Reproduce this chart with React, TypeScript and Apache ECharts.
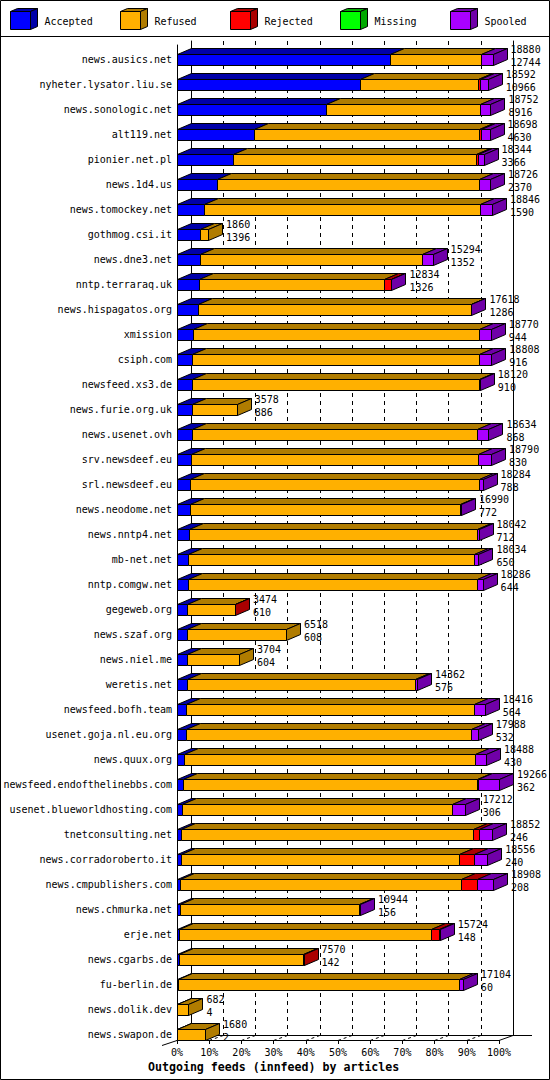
import React, { useEffect, useRef } from 'react';
import * as echarts from 'echarts';

const hosts = [
  'news.ausics.net', 'nyheter.lysator.liu.se', 'news.sonologic.net', 'alt119.net', 'pionier.net.pl',
  'news.1d4.us', 'news.tomockey.net', 'gothmog.csi.it', 'news.dne3.net', 'nntp.terraraq.uk',
  'news.hispagatos.org', 'xmission', 'csiph.com', 'newsfeed.xs3.de', 'news.furie.org.uk',
  'news.usenet.ovh', 'srv.newsdeef.eu', 'srl.newsdeef.eu', 'news.neodome.net', 'news.nntp4.net',
  'mb-net.net', 'nntp.comgw.net', 'gegeweb.org', 'news.szaf.org', 'news.niel.me',
  'weretis.net', 'newsfeed.bofh.team', 'usenet.goja.nl.eu.org', 'news.quux.org', 'newsfeed.endofthelinebbs.com',
  'usenet.blueworldhosting.com', 'tnetconsulting.net', 'news.corradoroberto.it', 'news.cmpublishers.com', 'news.chmurka.net',
  'erje.net', 'news.cgarbs.de', 'fu-berlin.de', 'news.dolik.dev', 'news.swapon.de',
];
const offered = [
  18880, 18592, 18752, 18698, 18344, 18726, 18846, 1860, 15294, 12834,
  17618, 18770, 18808, 18120, 3578, 18634, 18790, 18284, 16990, 18042,
  18034, 18286, 3474, 6518, 3704, 14362, 18416, 17988, 18488, 19266,
  17212, 18852, 18556, 18908, 10944, 15724, 7570, 17104, 682, 1680,
];
const accepted = [
  12744, 10966, 8916, 4630, 3366, 2370, 1590, 1396, 1352, 1326,
  1286, 944, 916, 910, 886, 868, 830, 788, 772, 712,
  650, 644, 610, 608, 604, 576, 564, 532, 430, 362,
  306, 246, 240, 208, 156, 148, 142, 60, 4, 2,
];
const refused = [
  5436, 7066, 9206, 13418, 14543, 15686, 16521, 464, 13312, 11078,
  16292, 17111, 17137, 17150, 2692, 17096, 17205, 17286, 16188, 17210,
  17134, 17307, 2834, 5910, 3100, 13666, 17222, 17036, 17388, 17594,
  16171, 17446, 16636, 16770, 10758, 15021, 7408, 16834, 678, 1678,
];
const rejected = [
  0, 120, 0, 150, 100, 0, 0, 0, 0, 400,
  0, 0, 0, 0, 0, 0, 0, 0, 0, 0,
  0, 0, 30, 0, 0, 0, 0, 0, 0, 30,
  0, 380, 880, 945, 0, 525, 20, 0, 0, 0,
];
const missing = [
  0, 0, 0, 0, 0, 0, 0, 0, 0, 0,
  0, 0, 0, 0, 0, 0, 0, 0, 0, 0,
  0, 0, 0, 0, 0, 0, 0, 0, 0, 0,
  0, 0, 0, 0, 0, 0, 0, 0, 0, 0,
];
const spooled = [
  700, 440, 630, 500, 335, 670, 735, 0, 630, 30,
  40, 715, 755, 60, 0, 670, 755, 210, 30, 120,
  250, 335, 0, 0, 0, 120, 630, 420, 670, 1280,
  735, 780, 800, 985, 30, 30, 0, 210, 0, 0,
];
const legendNames = ['Accepted', 'Refused', 'Rejected', 'Missing', 'Spooled'];
const chartTitle = 'Outgoing feeds (innfeed) by articles';

const frontColors = ['#0000ff', '#ffb000', '#ff0000', '#00ff00', '#aa00ff'];
const darkColors = ['#0000a8', '#b07c00', '#aa0000', '#00a800', '#7000a8'];

const FONT = '"DejaVu Sans Mono", monospace';
const DX = 14;
const DY = 6;
const HALF = 5.5;

export default function App() {
  const ref = useRef<HTMLDivElement>(null);

  useEffect(() => {
    document.body.style.margin = '0';
    const chart = echarts.init(ref.current!, null, { renderer: 'svg' });
    const maxOffered = Math.max(...offered);

    const data = hosts.map((_, i) => [
      i, accepted[i], refused[i], rejected[i], missing[i], spooled[i], offered[i],
    ]);

    const renderItem = (params: any, api: any) => {
      const row = api.value(0);
      const segs = [1, 2, 3, 4, 5].map((k) => api.value(k) as number);
      const cy = api.coord([0, row])[1];
      const yTop = Math.floor(cy - HALF) + 0.5;
      const yBot = yTop + 11;
      const children: any[] = [];
      let cum = 0;
      let lastIdx = -1;
      segs.forEach((v, k) => { if (v > 0) lastIdx = k; });
      let lastXe = 0;
      segs.forEach((v, k) => {
        if (v <= 0) return;
        const xs = Math.round(api.coord([cum, row])[0]) + 0.5;
        cum += v;
        const xe = Math.round(api.coord([cum, row])[0]) + 0.5;
        lastXe = xe;
        children.push({
          type: 'polygon',
          shape: { points: [[xs, yTop], [xs + DX, yTop - DY], [xe + DX, yTop - DY], [xe, yTop]] },
          style: { fill: darkColors[k], stroke: '#000', lineWidth: 1 },
        });
        children.push({
          type: 'rect',
          shape: { x: xs, y: yTop, width: xe - xs, height: yBot - yTop },
          style: { fill: frontColors[k], stroke: '#000', lineWidth: 1 },
        });
      });
      if (lastIdx >= 0) {
        const xe = lastXe;
        children.push({
          type: 'polygon',
          shape: { points: [[xe, yTop], [xe + DX, yTop - DY], [xe + DX, yBot - DY], [xe, yBot]] },
          style: { fill: darkColors[lastIdx], stroke: '#000', lineWidth: 1 },
        });
      }
      const tx = api.coord([api.value(6), row])[0] + DX + 4;
      children.push({
        type: 'text',
        x: tx, y: cy - 10,
        style: { text: String(api.value(6)), fill: '#000', fontFamily: FONT, fontSize: 10, align: 'left', verticalAlign: 'middle' },
      });
      children.push({
        type: 'text',
        x: tx, y: cy + 2.5,
        style: { text: String(api.value(1)), fill: '#000', fontFamily: FONT, fontSize: 10, align: 'left', verticalAlign: 'middle' },
      });
      return { type: 'group', children };
    };

    // frame decorations
    const FRONT_L = 177;
    const PLOT_W = 322;
    const FLOOR_Y = 1040.5;
    const BACK_Y = 1035.5;
    const graphics: any[] = [];
    graphics.push({
      type: 'rect', silent: true, z: 100,
      shape: { x: 0.5, y: 0.5, width: 549, height: 1079 },
      style: { fill: 'none', stroke: '#000', lineWidth: 1 },
    });
    graphics.push({
      type: 'line', silent: true,
      shape: { x1: 0, y1: 36.5, x2: 550, y2: 36.5 },
      style: { stroke: '#000', lineWidth: 1 },
    });
    legendNames.forEach((name, i) => {
      const x0 = 10.5 + 110 * i;
      const y0 = 11.5;
      const w = 20;
      const h = 18;
      const d = 7;
      const e = 3;
      graphics.push({
        type: 'polygon', silent: true,
        shape: { points: [[x0, y0], [x0 + d, y0 - e], [x0 + w + d, y0 - e], [x0 + w, y0]] },
        style: { fill: darkColors[i], stroke: '#000', lineWidth: 1 },
      });
      graphics.push({
        type: 'polygon', silent: true,
        shape: { points: [[x0 + w, y0], [x0 + w + d, y0 - e], [x0 + w + d, y0 + h - e], [x0 + w, y0 + h]] },
        style: { fill: darkColors[i], stroke: '#000', lineWidth: 1 },
      });
      graphics.push({
        type: 'rect', silent: true,
        shape: { x: x0, y: y0, width: w, height: h },
        style: { fill: frontColors[i], stroke: '#000', lineWidth: 1 },
      });
      graphics.push({
        type: 'text', silent: true,
        x: x0 + 34, y: 21,
        style: { text: name, fill: '#000', fontFamily: FONT, fontSize: 10, align: 'left', verticalAlign: 'middle' },
      });
    });
    // floor edges
    graphics.push({
      type: 'line', silent: true,
      shape: { x1: FRONT_L - 15, y1: FLOOR_Y + 5, x2: FRONT_L, y2: FLOOR_Y },
      style: { stroke: '#000', lineWidth: 1 },
    });
    graphics.push({
      type: 'line', silent: true,
      shape: { x1: FRONT_L + DX + PLOT_W, y1: BACK_Y, x2: 532, y2: BACK_Y },
      style: { stroke: '#000', lineWidth: 1 },
    });
    for (let k = 0; k <= 10; k++) {
      const x = FRONT_L + (PLOT_W * k) / 10;
      graphics.push({
        type: 'line', silent: true,
        shape: { x1: x, y1: FLOOR_Y, x2: x + DX, y2: BACK_Y },
        style: { stroke: '#000', lineWidth: 1, lineDash: k === 10 ? null : [3, 3] },
      });
    }

    const axisText = { fontFamily: FONT, fontSize: 10, color: '#000' };

    chart.setOption({
      animation: false,
      backgroundColor: '#fff',
      title: {
        text: chartTitle,
        left: 148,
        top: 1061,
        padding: 0,
        textStyle: { fontFamily: FONT, fontSize: 11.6, fontWeight: 'bold', color: '#000' },
      },
      grid: [
        { left: 177, top: 47, width: 322, height: 1000 },
        { left: 177, top: 45, width: 322, height: 995 },
        { left: 191, top: 41, width: 322, height: 994 },
      ],
      xAxis: [
        { type: 'value', gridIndex: 0, min: 0, max: maxOffered, show: false },
        {
          type: 'value', gridIndex: 1, min: 0, max: 100, interval: 10,
          axisLine: { show: true, lineStyle: { color: '#000', width: 1 } },
          axisTick: { show: true, length: 4, lineStyle: { color: '#000' } },
          axisLabel: { ...axisText, margin: 7, formatter: '{value}%' },
          splitLine: { show: false },
        },
        {
          type: 'value', gridIndex: 2, min: 0, max: 100, interval: 10,
          axisLine: { show: true, lineStyle: { color: '#000', width: 1 } },
          axisTick: { show: false },
          axisLabel: { show: false },
          splitLine: { show: true, lineStyle: { color: '#000', width: 1, type: [4, 4] } },
        },
      ],
      yAxis: [
        {
          type: 'category', gridIndex: 0, data: hosts, inverse: true,
          axisLine: { show: false }, axisTick: { show: false },
          axisLabel: { ...axisText, margin: 5, interval: 0 },
          splitLine: { show: false },
        },
        {
          type: 'value', gridIndex: 1, min: 0, max: 1,
          axisLine: { show: true, lineStyle: { color: '#000', width: 1 } },
          axisTick: { show: false }, axisLabel: { show: false }, splitLine: { show: false },
        },
        {
          type: 'value', gridIndex: 2, min: 0, max: 1, position: 'left',
          axisLine: { show: true, lineStyle: { color: '#000', width: 1 } },
          axisTick: { show: false }, axisLabel: { show: false }, splitLine: { show: false },
        },
        {
          type: 'value', gridIndex: 2, min: 0, max: 1, position: 'right',
          axisLine: { show: true, lineStyle: { color: '#000', width: 1 } },
          axisTick: { show: false }, axisLabel: { show: false }, splitLine: { show: false },
        },
      ],
      series: [
        {
          type: 'custom',
          xAxisIndex: 0,
          yAxisIndex: 0,
          clip: false,
          z: 5,
          encode: { x: 6, y: 0 },
          renderItem,
          data,
        },
      ],
      graphic: graphics,
    });

    return () => chart.dispose();
  }, []);

  return <div ref={ref} style={{ width: 550, height: 1080 }} />;
}
